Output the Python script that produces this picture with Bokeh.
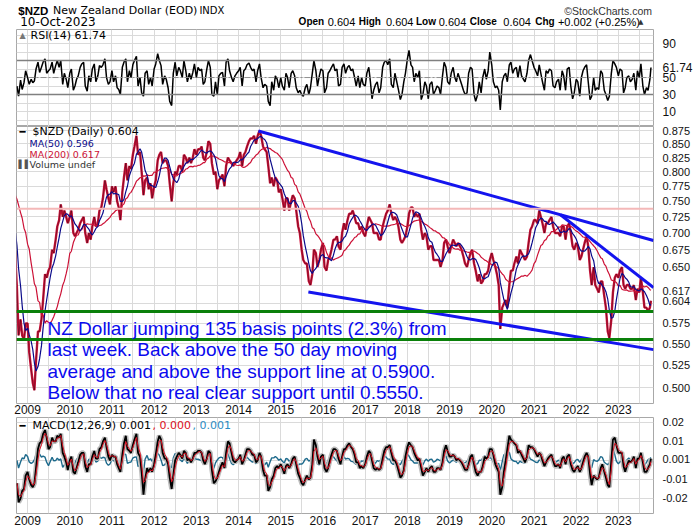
import pandas as pd
from datetime import datetime
from bokeh.plotting import figure
from bokeh.layouts import column
from bokeh.models import Range1d, FixedTicker, PrintfTickFormatter, DatetimeTickFormatter, Label, Span
from bokeh.embed import file_html
from bokeh.resources import INLINE

# ---------------- data (semi-monthly closes) ----------------
nzd_2008 = [0.775, 0.775, 0.79, 0.79, 0.81, 0.80, 0.79, 0.795, 0.77, 0.78, 0.775, 0.755,
            0.76, 0.745, 0.725, 0.70, 0.69, 0.67, 0.62, 0.56, 0.58, 0.56, 0.555, 0.575]
nzd_2009 = [0.575, 0.54, 0.52, 0.505, 0.497, 0.53, 0.565, 0.565, 0.58, 0.605, 0.64, 0.635,
            0.645, 0.65, 0.675, 0.67, 0.69, 0.71, 0.72, 0.745, 0.725, 0.735, 0.725, 0.715]
nzd_2010 = [0.725, 0.735, 0.70, 0.695, 0.70, 0.705, 0.715, 0.72, 0.725, 0.70, 0.685, 0.70,
            0.69, 0.71, 0.725, 0.71, 0.715, 0.735, 0.74, 0.755, 0.785, 0.77, 0.755, 0.745]
nzd_2011 = [0.775, 0.765, 0.775, 0.75, 0.74, 0.72, 0.765, 0.79, 0.815, 0.785, 0.81, 0.805,
            0.83, 0.845, 0.865, 0.83, 0.835, 0.80, 0.76, 0.785, 0.79, 0.77, 0.78, 0.755]
nzd_2012 = [0.775, 0.785, 0.82, 0.83, 0.835, 0.815, 0.82, 0.82, 0.81, 0.78, 0.75, 0.78,
            0.80, 0.795, 0.81, 0.81, 0.80, 0.83, 0.825, 0.815, 0.825, 0.815, 0.825, 0.84]
nzd_2013 = [0.83, 0.84, 0.84, 0.845, 0.825, 0.82, 0.835, 0.855, 0.85, 0.815, 0.795, 0.80,
            0.77, 0.785, 0.79, 0.795, 0.775, 0.81, 0.825, 0.82, 0.815, 0.81, 0.815, 0.82]
nzd_2014 = [0.825, 0.835, 0.81, 0.83, 0.835, 0.845, 0.855, 0.86, 0.86, 0.865, 0.85, 0.865,
            0.875, 0.865, 0.845, 0.84, 0.835, 0.81, 0.78, 0.79, 0.775, 0.79, 0.785, 0.765]
nzd_2015 = [0.77, 0.755, 0.735, 0.755, 0.755, 0.735, 0.75, 0.76, 0.755, 0.735, 0.71, 0.70,
            0.675, 0.66, 0.655, 0.655, 0.63, 0.625, 0.64, 0.675, 0.67, 0.65, 0.66, 0.675]
nzd_2016 = [0.685, 0.65, 0.645, 0.66, 0.665, 0.675, 0.69, 0.69, 0.695, 0.68, 0.675, 0.70,
            0.715, 0.705, 0.72, 0.73, 0.73, 0.735, 0.725, 0.715, 0.715, 0.705, 0.71, 0.70]
nzd_2017 = [0.695, 0.71, 0.725, 0.72, 0.715, 0.70, 0.70, 0.70, 0.69, 0.69, 0.71, 0.72,
            0.73, 0.735, 0.745, 0.73, 0.72, 0.725, 0.72, 0.71, 0.69, 0.685, 0.69, 0.695]
nzd_2018 = [0.71, 0.73, 0.74, 0.74, 0.725, 0.73, 0.725, 0.73, 0.705, 0.69, 0.70, 0.695,
            0.675, 0.68, 0.68, 0.66, 0.66, 0.66, 0.66, 0.65, 0.66, 0.685, 0.69, 0.68]
nzd_2019 = [0.67, 0.68, 0.69, 0.685, 0.68, 0.685, 0.68, 0.675, 0.665, 0.655, 0.65, 0.66,
            0.67, 0.675, 0.655, 0.645, 0.63, 0.64, 0.627, 0.63, 0.64, 0.64, 0.645, 0.66]
nzd_2020 = [0.67, 0.66, 0.65, 0.64, 0.625, 0.568, 0.595, 0.60, 0.605, 0.595, 0.625, 0.645,
            0.645, 0.655, 0.665, 0.655, 0.675, 0.67, 0.665, 0.66, 0.665, 0.685, 0.705, 0.71]
nzd_2021 = [0.72, 0.72, 0.715, 0.735, 0.725, 0.715, 0.70, 0.715, 0.715, 0.72, 0.725, 0.71,
            0.70, 0.70, 0.70, 0.695, 0.71, 0.71, 0.69, 0.71, 0.715, 0.70, 0.68, 0.675]
nzd_2022 = [0.685, 0.68, 0.66, 0.665, 0.675, 0.685, 0.695, 0.68, 0.645, 0.625, 0.65, 0.625,
            0.62, 0.615, 0.63, 0.63, 0.61, 0.595, 0.565, 0.557, 0.58, 0.615, 0.635, 0.64]
nzd_2023 = [0.635, 0.645, 0.65, 0.625, 0.62, 0.625, 0.625, 0.62, 0.62, 0.625, 0.605, 0.62,
            0.615, 0.635, 0.615, 0.595, 0.595, 0.59, 0.595, 0.604]

# RSI(14), visible period from Oct 2008
rsi_2008 = [40, 28, 47, 36, 44, 58]
rsi_2009 = [50, 42, 48, 44, 46, 60, 68, 56, 62, 68, 72, 55, 58, 60, 68, 55, 64, 70, 62, 70, 42, 55, 48, 38]
rsi_2010 = [55, 60, 35, 40, 48, 52, 62, 66, 68, 40, 34, 52, 45, 60, 66, 45, 52, 64, 62, 65, 72, 50, 42, 45]
rsi_2011 = [58, 45, 52, 38, 36, 30, 62, 68, 72, 45, 58, 50, 65, 70, 75, 40, 50, 32, 28, 55, 58, 42, 50, 40]
rsi_2012 = [60, 66, 78, 70, 64, 42, 52, 48, 38, 22, 17, 55, 68, 52, 62, 58, 50, 70, 58, 45, 55, 48, 56, 66]
rsi_2013 = [50, 62, 58, 60, 42, 45, 60, 70, 62, 30, 28, 45, 30, 52, 55, 56, 40, 68, 72, 58, 50, 45, 52, 55]
rsi_2014 = [58, 62, 40, 58, 60, 65, 67, 62, 58, 60, 45, 58, 66, 50, 38, 42, 40, 22, 17, 45, 35, 52, 48, 38]
rsi_2015 = [50, 40, 35, 55, 50, 38, 55, 58, 52, 38, 32, 35, 30, 28, 38, 42, 30, 38, 55, 70, 58, 40, 52, 60]
rsi_2016 = [58, 32, 38, 55, 58, 62, 66, 58, 60, 40, 42, 62, 66, 55, 62, 64, 58, 60, 50, 40, 52, 38, 50, 42]
rsi_2017 = [40, 55, 62, 45, 25, 35, 42, 45, 32, 38, 62, 68, 70, 65, 72, 42, 38, 55, 45, 36, 24, 30, 45, 55]
rsi_2018 = [72, 82, 65, 62, 45, 55, 50, 58, 24, 30, 45, 40, 25, 42, 45, 30, 35, 40, 38, 30, 52, 68, 62, 45]
rsi_2019 = [42, 55, 62, 50, 45, 55, 48, 42, 35, 30, 32, 55, 62, 60, 30, 22, 30, 45, 32, 50, 60, 48, 58, 80]
rsi_2020 = [65, 45, 38, 40, 35, 12, 45, 52, 55, 45, 65, 68, 55, 60, 62, 50, 64, 52, 48, 45, 55, 70, 77, 70]
rsi_2021 = [62, 58, 52, 65, 55, 45, 35, 58, 55, 60, 58, 40, 38, 45, 48, 35, 58, 52, 35, 60, 62, 40, 25, 32]
rsi_2022 = [48, 45, 28, 50, 58, 62, 65, 45, 24, 28, 50, 35, 38, 36, 58, 55, 35, 30, 23, 28, 55, 70, 66, 62]
rsi_2023 = [52, 60, 58, 32, 38, 50, 52, 45, 48, 55, 35, 58, 50, 66, 40, 30, 38, 35, 48, 61.74]

# MACD(12,26,9) line, visible period from Oct 2008
macd_2008 = [-0.012, -0.022, -0.020, -0.016, -0.015, -0.008]
macd_2009 = [-0.006, -0.010, -0.013, -0.014, -0.012, -0.004, 0.006, 0.009, 0.010, 0.014, 0.016, 0.012,
             0.006, 0.007, 0.012, 0.010, 0.010, 0.013, 0.012, 0.014, 0.004, 0.002, -0.001, -0.005]
macd_2010 = [0.000, 0.002, -0.006, -0.007, -0.004, -0.001, 0.003, 0.004, 0.004, -0.003, -0.006, -0.002,
             -0.002, 0.002, 0.005, 0.001, 0.001, 0.006, 0.007, 0.010, 0.012, 0.007, 0.002, 0.000]
macd_2011 = [0.003, 0.002, 0.002, -0.002, -0.004, -0.006, 0.003, 0.009, 0.013, 0.006, 0.005, 0.004,
             0.008, 0.011, 0.014, 0.004, 0.002, -0.006, -0.018, -0.010, -0.004, -0.006, -0.004, -0.006]
macd_2012 = [-0.002, 0.003, 0.010, 0.013, 0.011, 0.004, 0.001, 0.001, -0.002, -0.009, -0.015, -0.008,
             0.000, 0.002, 0.004, 0.003, 0.001, 0.005, 0.004, 0.000, 0.001, -0.001, 0.001, 0.004]
macd_2013 = [0.004, 0.005, 0.005, 0.004, 0.000, -0.002, 0.001, 0.005, 0.004, -0.005, -0.012, -0.011,
             -0.009, -0.006, -0.003, -0.001, -0.004, 0.004, 0.010, 0.009, 0.004, 0.000, -0.001, 0.000]
macd_2014 = [0.001, 0.003, -0.002, 0.000, 0.003, 0.006, 0.006, 0.005, 0.003, 0.003, -0.001, 0.000,
             0.004, 0.002, -0.005, -0.008, -0.008, -0.016, -0.014, -0.010, -0.008, -0.004, -0.003, -0.004]
macd_2015 = [-0.002, -0.004, -0.007, -0.003, -0.002, -0.004, -0.002, 0.001, 0.002, -0.002, -0.007, -0.009,
             -0.012, -0.013, -0.010, -0.008, -0.010, -0.009, -0.002, 0.011, 0.008, 0.002, -0.002, 0.002]
macd_2016 = [0.003, -0.004, -0.006, -0.004, 0.000, 0.003, 0.006, 0.006, 0.005, 0.001, -0.002, 0.002,
             0.006, 0.006, 0.008, 0.009, 0.007, 0.006, 0.003, -0.001, -0.001, -0.004, -0.003, -0.004]
macd_2017 = [-0.002, 0.002, 0.005, 0.004, 0.000, -0.004, -0.005, -0.004, -0.005, -0.004, 0.001, 0.005,
             0.007, 0.007, 0.008, 0.004, 0.000, 0.000, -0.002, -0.005, -0.009, -0.008, -0.005, 0.002]
macd_2018 = [0.007, 0.0095, 0.008, 0.007, 0.004, 0.002, 0.000, 0.001, -0.004, -0.008, -0.006, -0.004,
             -0.006, -0.004, -0.003, -0.006, -0.006, -0.004, -0.004, -0.005, -0.001, 0.005, 0.008, 0.005]
macd_2019 = [0.002, 0.002, 0.003, 0.002, 0.000, 0.001, 0.000, -0.001, -0.003, -0.005, -0.005, -0.002,
             0.002, 0.003, -0.002, -0.006, -0.008, -0.006, -0.006, -0.003, 0.002, 0.001, 0.002, 0.006]
macd_2020 = [0.006, 0.003, -0.002, -0.004, -0.006, -0.018, -0.014, -0.006, 0.000, 0.006, 0.013, 0.011,
             0.010, 0.009, 0.008, 0.004, 0.005, 0.003, 0.001, -0.001, 0.002, 0.008, 0.007, 0.007]
macd_2021 = [0.006, 0.004, 0.002, 0.004, 0.003, 0.000, -0.003, -0.001, 0.001, 0.002, 0.003, 0.000,
             -0.003, -0.003, -0.002, -0.004, 0.001, 0.002, -0.002, 0.002, 0.003, -0.002, -0.005, -0.006]
macd_2022 = [-0.004, -0.003, -0.006, -0.004, -0.001, 0.002, 0.004, 0.002, -0.007, -0.013, -0.008, -0.009,
             -0.010, -0.009, -0.004, -0.002, -0.006, -0.009, -0.013, -0.014, 0.000, 0.011, 0.012, 0.008]
macd_2023 = [0.004, 0.004, 0.004, -0.003, -0.006, -0.003, 0.000, -0.001, 0.000, 0.002, -0.004, 0.001,
             0.001, 0.004, -0.001, -0.006, -0.006, -0.004, -0.002, 0.001]

year_labels = [str(y) for y in range(2009, 2024)]
price_grid = [0.500, 0.525, 0.550, 0.575, 0.600, 0.625, 0.650, 0.675, 0.700, 0.725,
              0.750, 0.775, 0.800, 0.825, 0.850, 0.875]
price_label_ticks = [0.500, 0.525, 0.550, 0.575, 0.604, 0.617, 0.650, 0.675, 0.700, 0.725,
                     0.750, 0.775, 0.800, 0.825, 0.850, 0.875]
rsi_label_ticks = [10, 30, 50, 61.74, 90]
macd_label_ticks = [-0.02, -0.01, 0.001, 0.01, 0.02]

# hand-drawn annotations on the chart
upper_trend_dates = ["2014-06-22", "2023-11-01"]
upper_trend_vals = [0.874, 0.6886]
upper_trend2_dates = ["2021-08-18", "2023-11-01"]
upper_trend2_vals = [0.7283, 0.6215]
lower_trend_dates = ["2015-08-28", "2023-11-01"]
lower_trend_vals = [0.6155, 0.543]
support_levels = [0.590, 0.555]
resistance_level = 0.738
resistance_green_dates = ["2011-05-15", "2014-12-31"]

note_lines = ["NZ Dollar jumping 135 basis points (2.3%) from",
              "last week. Back above the 50 day moving",
              "average and above the support line at 0.5900.",
              "Below that no real clear support until 0.5550."]

# ---------------- build series ----------------
price_vals = (nzd_2008 + nzd_2009 + nzd_2010 + nzd_2011 + nzd_2012 + nzd_2013 + nzd_2014 +
              nzd_2015 + nzd_2016 + nzd_2017 + nzd_2018 + nzd_2019 + nzd_2020 + nzd_2021 +
              nzd_2022 + nzd_2023)
dates = pd.date_range("2008-01-01", "2023-10-01", freq="SMS").append(pd.DatetimeIndex(["2023-10-10"]))
assert len(dates) == len(price_vals), (len(dates), len(price_vals))
close = pd.Series(price_vals, index=dates)
ma50 = close.rolling("73D").mean()
ma200 = close.rolling("290D").mean()

vis = dates[18:]
rsi_vals = (rsi_2008 + rsi_2009 + rsi_2010 + rsi_2011 + rsi_2012 + rsi_2013 + rsi_2014 + rsi_2015 +
            rsi_2016 + rsi_2017 + rsi_2018 + rsi_2019 + rsi_2020 + rsi_2021 + rsi_2022 + rsi_2023)
macd_vals = (macd_2008 + macd_2009 + macd_2010 + macd_2011 + macd_2012 + macd_2013 + macd_2014 +
             macd_2015 + macd_2016 + macd_2017 + macd_2018 + macd_2019 + macd_2020 + macd_2021 +
             macd_2022 + macd_2023)
assert len(vis) == len(rsi_vals) == len(macd_vals), (len(vis), len(rsi_vals), len(macd_vals))
macd = pd.Series(macd_vals, index=vis)
signal = macd.ewm(alpha=0.6, adjust=False).mean()
hist = macd - signal

# ---------------- layout helpers ----------------
X0, X1 = datetime(2008, 9, 27), datetime(2023, 11, 1)
xr = Range1d(X0, X1)
year_ms = [pd.Timestamp(f"{y}-01-01").value // 10**6 for y in year_labels]
grid_ms = sorted(year_ms + [pd.Timestamp(f"{y}-07-01").value // 10**6 for y in range(2009, 2024)])
GRID = "#dadada"
OUTLINE = "#a8a8a8"
FRAME_W = 637


def make_fig(frame_h, y_range, y_type="linear", top=0, bottom=0, x_axis=True):
    p = figure(frame_width=FRAME_W, frame_height=frame_h, x_axis_type="datetime", y_axis_type=y_type,
               x_range=xr, y_range=y_range, y_axis_location="right",
               x_axis_location="below" if x_axis else None,
               toolbar_location=None, output_backend="svg",
               min_border_left=16, min_border_right=47, min_border_top=top, min_border_bottom=bottom)
    p.outline_line_color = OUTLINE
    p.background_fill_color = "white"
    p.border_fill_color = "white"
    p.xgrid.ticker = FixedTicker(ticks=grid_ms)
    p.xgrid.grid_line_color = GRID
    p.ygrid.grid_line_color = GRID
    p.yaxis.axis_line_color = None
    p.yaxis.major_tick_line_color = None
    p.yaxis.minor_tick_line_color = None
    p.yaxis.major_label_standoff = 3
    p.yaxis.major_label_text_font = "Liberation Sans"
    p.yaxis.major_label_text_color = "#111111"
    if x_axis:
        p.xaxis.ticker = FixedTicker(ticks=year_ms)
        p.xaxis.formatter = DatetimeTickFormatter(years="%Y", months="%Y", days="%Y")
        p.xaxis.axis_line_color = None
        p.xaxis.major_tick_line_color = None
        p.xaxis.minor_tick_line_color = None
        p.xaxis.major_tick_out = 0
        p.xaxis.major_label_standoff = 1
        p.xaxis.major_label_text_font = "Liberation Sans"
        p.xaxis.major_label_text_font_size = "12px"
        p.xaxis.major_label_text_color = "#111111"
    return p


def lab(p, bottom, px, py, text, size, color="black", font="DejaVu Sans", style="normal",
        align="left", baseline="middle"):
    p.add_layout(Label(x=px - 16, y=bottom - py, x_units="screen", y_units="screen", text=text,
                       text_font=font, text_font_size=f"{size}px", text_color=color,
                       text_font_style=style, text_align=align, text_baseline=baseline))

# ---------------- header strip ----------------
p0 = figure(width=700, height=28, x_range=Range1d(0, 700), y_range=Range1d(0, 28),
            x_axis_location=None, y_axis_location=None, toolbar_location=None, output_backend="svg",
            min_border=0, min_border_left=0, min_border_right=0, min_border_top=0, min_border_bottom=0)
p0.outline_line_color = None
p0.xgrid.visible = False
p0.ygrid.visible = False


def hlab(px, py, text, size, color="black", font="DejaVu Sans", style="normal", align="left"):
    p0.add_layout(Label(x=px, y=28 - py, text=text, text_font=font, text_font_size=f"{size}px",
                        text_color=color, text_font_style=style, text_align=align,
                        text_baseline="middle"))

hlab(2, 10, "$NZD", 11.5, font="Liberation Sans", style="bold")
hlab(40, 10, "New Zealand Dollar (EOD)", 11)
hlab(201, 10, "INDX", 10)
hlab(4, 21, "10-Oct-2023", 12)
hlab(602, 10, "\u00a9StockCharts.com", 10.5, color="#333333", font="Liberation Sans")
row2 = [(310, "Open", True), (342, "0.604", False), (376, "High", True), (406, "0.604", False),
        (439, "Low", True), (464, "0.604", False), (498, "Close", True), (535, "0.604", False),
        (570, "Chg", True), (595, "+0.002 (+0.25%)", False)]
for px, t, bold in row2:
    if bold:
        hlab(px, 21, t, 10, font="Liberation Sans", style="bold")
    else:
        hlab(px, 21, t, 11, font="Liberation Sans")
hlab(683, 21, "\u25b2", 7, color="#333333")

# ---------------- RSI panel ----------------
p1 = make_fig(97, Range1d(-7.6, 106.5), top=1, x_axis=False)
p1.yaxis.ticker = FixedTicker(ticks=rsi_label_ticks)
p1.yaxis.formatter = PrintfTickFormatter(format="%d")
p1.yaxis.major_label_overrides = {61.74: "61.74"}
p1.yaxis.major_label_text_font_size = "12px"
p1.ygrid.ticker = FixedTicker(ticks=list(range(0, 101, 10)))
p1.add_layout(Span(location=70, dimension="width", line_color="#808080", line_width=1.5))
p1.add_layout(Span(location=30, dimension="width", line_color="#808080", line_width=1.5))
p1.add_layout(Span(location=50, dimension="width", line_color="#909090", line_width=1, line_dash="6 2 2 2"))
p1.line(vis, rsi_vals, line_color="black", line_width=1.5)
B1 = 126
lab(p1, B1, 19, 35, "\u25b2", 8, color="#777777")
lab(p1, B1, 30, 35, "RSI(14) 61.74", 11)

# ---------------- price panel ----------------
p2 = make_fig(277, Range1d(0.4829, 0.8827), y_type="log", bottom=14)
p2.yaxis.ticker = FixedTicker(ticks=price_label_ticks)
p2.yaxis.formatter = PrintfTickFormatter(format="%.3f")
p2.yaxis.major_label_text_font_size = "11px"
p2.ygrid.ticker = FixedTicker(ticks=price_grid)

p2.add_layout(Span(location=resistance_level, dimension="width", line_color="#f4b8b8", line_width=2))
p2.line(pd.to_datetime(resistance_green_dates), [resistance_level] * 2, line_color="#b9ddb9", line_width=2)

p2.line(close.index, close.values, line_color="#d0143c", line_width=2.4)
p2.line(close.index, close.values, line_color="black", line_width=0.6, line_alpha=0.6)
p2.line(ma200.index, ma200.values, line_color="#cc1136", line_width=1.2)
p2.line(ma50.index, ma50.values, line_color="#0a0a8a", line_width=1.2)

for lvl in support_levels:
    p2.add_layout(Span(location=lvl, dimension="width", line_color="#0a800a", line_width=3))
p2.line(pd.to_datetime(["2008-09-27", "2009-04-21"]), [support_levels[0]] * 2, line_color="#ee1111", line_width=3)
p2.line(pd.to_datetime(["2008-09-27", "2009-03-10"]), [support_levels[1]] * 2, line_color="#ee1111", line_width=3)

for d, v in [(upper_trend_dates, upper_trend_vals), (upper_trend2_dates, upper_trend2_vals),
             (lower_trend_dates, lower_trend_vals)]:
    p2.line(pd.to_datetime(d), v, line_color="#1414ee", line_width=3)

B2 = 403
lab(p2, B2, 19, 131, "\u2501", 10)
lab(p2, B2, 32, 131, "$NZD (Daily) 0.604", 11)
lab(p2, B2, 29, 143, "MA(50) 0.596", 9.5, color="#0a0a8a")
lab(p2, B2, 29, 154, "MA(200) 0.617", 9.5, color="#cc1136")
lab(p2, B2, 18, 164, "\u258c\u258c", 8, color="#555555")
lab(p2, B2, 29, 164, "Volume undef", 9.5, color="#333333")

for i, t in enumerate(note_lines):
    lab(p2, B2, 47, 327.5 + 21.5 * i, t, 19, color="#0a0aee", font="Liberation Sans", baseline="alphabetic")

# ---------------- MACD panel ----------------
p3 = make_fig(96, Range1d(-0.0279, 0.0226))
p3.xaxis.major_label_standoff = 2
p3.yaxis.ticker = FixedTicker(ticks=macd_label_ticks)
p3.yaxis.formatter = PrintfTickFormatter(format="%.2f")
p3.yaxis.major_label_overrides = {0.001: "0.001"}
p3.yaxis.major_label_text_font_size = "11px"
p3.ygrid.ticker = FixedTicker(ticks=[-0.02, -0.01, 0.0, 0.01, 0.02])
p3.line(hist.index, hist.values, line_color="#1d6a8c", line_width=1.4)
p3.line(macd.index, macd.values, line_color="#bcbcbc", line_width=5)
p3.line(macd.index, macd.values, line_color="black", line_width=1.8)
p3.line(signal.index, signal.values, line_color="#dd1122", line_width=1)
B3 = 417 + 96
lab(p3, B3, 19, 425, "\u2501", 10)
lab(p3, B3, 32, 425, "MACD(12,26,9) 0.001", 11)
lab(p3, B3, 152, 425, ", 0.000", 11, color="#dd1122")
lab(p3, B3, 192, 425, ", 0.001", 11, color="#2b8cc4")

layout = column(p0, p1, p2, p3, spacing=0)
open("out.html", "w").write(file_html(layout, INLINE))
